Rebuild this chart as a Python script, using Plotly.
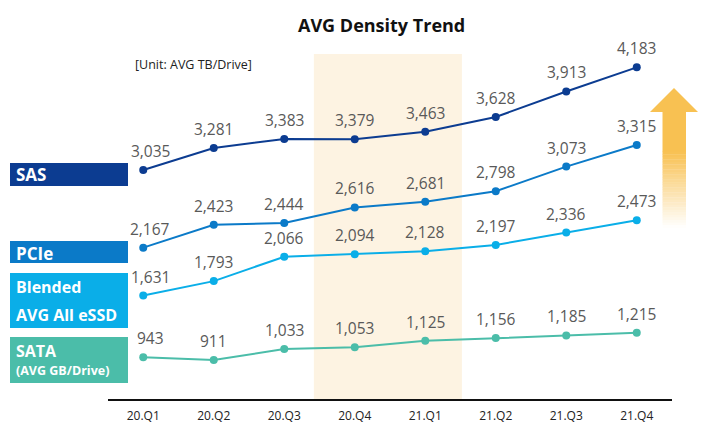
import plotly.graph_objects as go

# ---------------- data ----------------
quarters = ["20.Q1", "20.Q2", "20.Q3", "20.Q4", "21.Q1", "21.Q2", "21.Q3", "21.Q4"]
sas = [3035, 3281, 3383, 3379, 3463, 3628, 3913, 4183]
pcie = [2167, 2423, 2444, 2616, 2681, 2798, 3073, 3315]
blended = [1631, 1793, 2066, 2094, 2128, 2197, 2336, 2473]
sata = [943, 911, 1033, 1053, 1125, 1156, 1185, 1215]

series_names = ["SAS", "PCIe", "Blended AVG All eSSD", "SATA"]
series_values = [sas, pcie, blended, sata]
series_colors = ["#0c3c91", "#0b7ac8", "#0aaee8", "#4bbda9"]

title_text = "AVG Density Trend"
unit_text = "[Unit: AVG TB/Drive]"

# ---------------- layout geometry (pixels in the 722x430 window) ----------------
OFF = 8  # default page body margin
W, H = 722 - OFF, 430 - OFF
L, R, T, B = 108, 672, 54, 399  # plot area edges in window pixels


def pxx(x):
    return (x - L) / (R - L)


def pxy(y):
    return (B - y) / (B - T)


fig = go.Figure()

for name, vals, col in zip(series_names, series_values, series_colors):
    fig.add_trace(go.Scatter(
        x=quarters, y=vals, mode="lines+markers", name=name,
        line=dict(color=col, width=2),
        marker=dict(color=col, size=8),
        hoverinfo="x+y", showlegend=False,
    ))

annotations = []
label_font = dict(family="Open Sans", size=15.5, color="#595959")
for vals in series_values:
    for i, (q, v) in enumerate(zip(quarters, vals)):
        annotations.append(dict(
            x=q, y=v, xref="x", yref="y", text=f"{v:,}", showarrow=False,
            yanchor="middle", xanchor="center", yshift=19,
            xshift=7 if i == 0 else 0, font=label_font,
        ))

# title and unit
annotations.append(dict(x=pxx(381), y=pxy(25), xref="paper", yref="paper",
                        text=f"<b>{title_text}</b>", showarrow=False,
                        xanchor="center", yanchor="middle",
                        font=dict(family="Open Sans", size=18, color="#111111")))
annotations.append(dict(x=pxx(133), y=pxy(65), xref="paper", yref="paper",
                        text=unit_text, showarrow=False,
                        xanchor="left", yanchor="middle",
                        font=dict(family="Open Sans", size=12.5, color="#222222")))

shapes = []
# highlighted period
shapes.append(dict(type="rect", xref="x", yref="paper", x0=3 - 0.58, x1=4 + 0.52,
                   y0=0, y1=1, fillcolor="#fdf3e2", line=dict(width=0), layer="below"))

# left side labels (boxes)
boxes = [
    (163, 186, series_colors[0], [("<b>SAS</b>", 174, 17)]),
    (241, 263, series_colors[1], [("<b>PCIe</b>", 253, 17)]),
    (273, 328, series_colors[2], [("<b>Blended</b>", 287, 16), ("<b>AVG All eSSD</b>", 315, 16)]),
    (337, 383, series_colors[3], [("<b>SATA</b>", 351, 16), ("<b>(AVG GB/Drive)</b>", 370, 12.5)]),
]
for y0, y1, col, texts in boxes:
    shapes.append(dict(type="rect", xref="paper", yref="paper",
                       x0=pxx(10), x1=pxx(128), y0=pxy(y1), y1=pxy(y0),
                       fillcolor=col, line=dict(width=0)))
    for txt, yc, fs in texts:
        annotations.append(dict(x=pxx(14), y=pxy(yc), xref="paper", yref="paper",
                                text=txt, showarrow=False, xanchor="left", yanchor="middle",
                                font=dict(family="Open Sans", size=fs, color="white")))

# up arrow with fading shaft
orange = (248, 193, 82)
head = (f"M {pxx(674)},{pxy(88)} L {pxx(698)},{pxy(112)} L {pxx(650)},{pxy(112)} Z")
shapes.append(dict(type="path", xref="paper", yref="paper", path=head,
                   fillcolor=f"rgb{orange}", line=dict(width=0)))
shapes.append(dict(type="rect", xref="paper", yref="paper",
                   x0=pxx(662.5), x1=pxx(686), y0=pxy(152), y1=pxy(111.5),
                   fillcolor=f"rgb{orange}", line=dict(width=0)))
n = 30
top, bot = 152, 228
for k in range(n):
    ya = top + (bot - top) * k / n
    yb = top + (bot - top) * (k + 1) / n
    t = (k + 0.5) / n
    c = tuple(round(o + (255 - o) * t) for o in orange)
    shapes.append(dict(type="rect", xref="paper", yref="paper",
                       x0=pxx(662.5), x1=pxx(686), y0=pxy(yb), y1=pxy(ya) + 0.001,
                       fillcolor=f"rgb{c}", line=dict(width=0)))

fig.update_layout(
    width=W, height=H, autosize=False,
    margin=dict(l=L - OFF, r=722 - R, t=T - OFF, b=430 - B, pad=0),
    paper_bgcolor="white", plot_bgcolor="rgba(0,0,0,0)",
    xaxis=dict(type="category", range=[-0.5, 7.5], showgrid=False, zeroline=False,
               showline=True, linecolor="#111111", linewidth=2, ticks="",
               tickfont=dict(family="Open Sans", size=12, color="#222222"),
               ticklabelstandoff=5, automargin=False, fixedrange=True),
    yaxis=dict(range=[475, 4332], visible=False, showgrid=False, zeroline=False,
               automargin=False, fixedrange=True),
    annotations=annotations, shapes=shapes,
    font=dict(family="Open Sans"),
)

fig.write_html("out.html")
